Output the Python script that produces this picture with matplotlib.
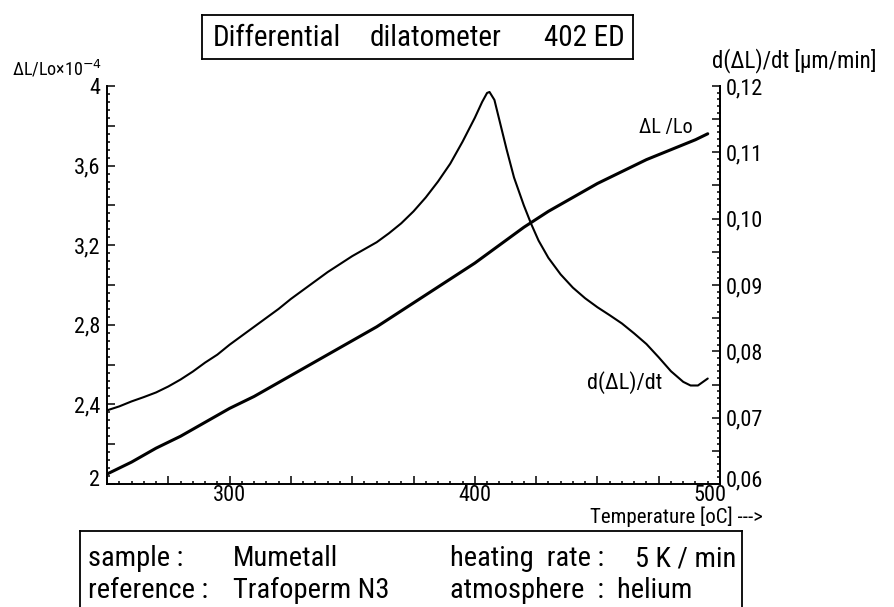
import matplotlib
matplotlib.use('Agg')
import matplotlib.pyplot as plt
from matplotlib import font_manager as fm
from matplotlib.ticker import MultipleLocator, FuncFormatter
from matplotlib.lines import Line2D
from matplotlib.transforms import ScaledTranslation

# ---- data ----
temp_dl = [250, 260, 270, 280, 290, 300, 310, 320, 330, 340, 350, 360, 370,
           380, 390, 400, 410, 420, 430, 440, 450, 460, 470, 480, 490, 495]
dl_lo = [2.05, 2.11, 2.18, 2.24, 2.31, 2.38, 2.44, 2.51, 2.58, 2.65, 2.72, 2.79,
         2.87, 2.95, 3.03, 3.11, 3.20, 3.29, 3.37, 3.44, 3.51, 3.57, 3.63, 3.68,
         3.73, 3.76]

temp_dr = [250, 255, 260, 265, 270, 275, 280, 285, 290, 295, 300, 305, 310, 315,
           320, 325, 330, 335, 340, 345, 350, 355, 360, 365, 370, 375, 380, 385,
           390, 395, 400, 403, 405, 406, 408, 410, 413, 416, 420, 423, 426, 430,
           435, 440, 445, 450, 455, 460, 465, 470, 475, 480, 485, 488, 491, 495]
deriv = [0.0711, 0.0717, 0.07245, 0.0731, 0.0738, 0.0747, 0.07575, 0.07695,
         0.0783, 0.0795, 0.0810, 0.08235, 0.0837, 0.08505, 0.0864, 0.0879,
         0.08925, 0.0906, 0.09195, 0.09315, 0.09435, 0.0954, 0.09645, 0.0978,
         0.0993, 0.1011, 0.1032, 0.1056, 0.1083, 0.1116, 0.1152, 0.1176,
         0.11895, 0.1191, 0.1179, 0.1149, 0.1104, 0.1062, 0.1020, 0.0992,
         0.0967, 0.0941, 0.0916, 0.0896, 0.0880, 0.08665, 0.08545, 0.0842,
         0.0827, 0.0811, 0.0791, 0.0770, 0.0754, 0.07485, 0.07485, 0.0759]

x_range = (250, 500)
left_range = (2, 4)
right_range = (0.06, 0.12)

W, H = 894, 607


def pick_narrow():
    prefs = ['Liberation Sans Narrow', 'Roboto Condensed', 'Open Sans Condensed',
             'Noto Sans Condensed', 'DejaVu Sans Condensed']
    good = []
    for f in fm.fontManager.ttflist:
        narrow = ('Narrow' in f.name or 'Condensed' in f.name or
                  'ondensed' in str(f.fname) or f.stretch in
                  ('condensed', 'semi-condensed', 'extra-condensed'))
        if not narrow or f.style != 'normal':
            continue
        w = f.weight if isinstance(f.weight, int) else 400
        if w not in (300, 400):
            continue
        good.append(f)
    for p in prefs:
        for f in good:
            if f.name == p:
                return fm.FontProperties(fname=f.fname), True
    if good:
        return fm.FontProperties(fname=good[0].fname), True
    return fm.FontProperties(family='DejaVu Sans'), False


FP, NARROW = pick_narrow()
K = 1.0 if NARROW else 0.85


def font(size):
    p = FP.copy()
    p.set_size(size * K)
    return p


def fx(x):
    return x / W


def fy(y):
    return 1 - y / H


fig = plt.figure(figsize=(W / 100, H / 100), dpi=100)
ax_l, ax_r, ax_t, ax_b = 107, 720, 86, 484
ax = fig.add_axes([fx(ax_l), fy(ax_b), (ax_r - ax_l) / W, (ax_b - ax_t) / H])
ax2 = ax.twinx()

ax.plot(temp_dl, dl_lo, color='black', lw=2.2, solid_capstyle='round')
ax2.plot(temp_dr, deriv, color='black', lw=1.5, solid_capstyle='round')

ax.set_xlim(*x_range)
ax.set_ylim(*left_range)
ax2.set_ylim(*right_range)

for a in (ax, ax2):
    a.spines['top'].set_visible(False)
    for s in a.spines.values():
        s.set_linewidth(1.4)
ax2.spines['left'].set_visible(False)
ax2.spines['bottom'].set_visible(False)


def fmt_left(v, pos):
    k = v / 0.4
    if abs(k - round(k)) > 1e-4:
        return ''
    s = f"{v:.1f}"
    if s.endswith('.0'):
        s = s[:-2]
    return s.replace('.', ',')


def fmt_right(v, pos):
    k = v / 0.01
    if abs(k - round(k)) > 1e-4:
        return ''
    return f"{v:.2f}".replace('.', ',')


def fmt_x(v, pos):
    if abs(v % 100) > 1e-6:
        return ''
    return f"{v:.0f}"


ax.xaxis.set_major_locator(MultipleLocator(25))
ax.xaxis.set_minor_locator(MultipleLocator(5))
ax.xaxis.set_major_formatter(FuncFormatter(fmt_x))
ax.yaxis.set_major_locator(MultipleLocator(0.2))
ax.yaxis.set_minor_locator(MultipleLocator(0.04))
ax.yaxis.set_major_formatter(FuncFormatter(fmt_left))
ax2.yaxis.set_major_locator(MultipleLocator(0.005))
ax2.yaxis.set_minor_locator(MultipleLocator(0.001))
ax2.yaxis.set_major_formatter(FuncFormatter(fmt_right))

ax.tick_params(which='both', direction='in', top=False, right=False, width=1.1)
ax.tick_params(axis='y', pad=5)
ax.tick_params(axis='x', pad=1)
ax.tick_params(which='major', length=6)
ax.tick_params(which='minor', length=2.5)
ax2.tick_params(which='both', direction='in', left=False, width=1.1, pad=4)
ax2.tick_params(which='major', length=6)
ax2.tick_params(which='minor', length=2.5)

fig.canvas.draw()
tick_font = font(16)
for lbl in ax.get_xticklabels() + ax.get_yticklabels() + ax2.get_yticklabels():
    lbl.set_fontproperties(tick_font)
# lowest y labels sit slightly above the bottom spine, as in the reference
raise_t = ScaledTranslation(0, 6 / 100, fig.dpi_scale_trans)
for t in ax2.yaxis.get_major_ticks():
    if abs(t.get_loc() - right_range[0]) < 1e-9:
        t.label2.set_transform(t.label2.get_transform() + raise_t)
for t in ax.yaxis.get_major_ticks():
    if abs(t.get_loc() - left_range[0]) < 1e-9:
        t.label1.set_transform(t.label1.get_transform() + raise_t)
# the last x label sits a little left of its tick, as in the reference
left_t = ScaledTranslation(-10 / 100, 0, fig.dpi_scale_trans)
for t in ax.xaxis.get_major_ticks():
    if abs(t.get_loc() - x_range[1]) < 1e-9:
        t.label1.set_transform(t.label1.get_transform() + left_t)

# curve labels
ax.text(478, 3.79, 'ΔL /Lo', fontproperties=font(14.5), ha='center', va='center')
ax.text(461, 2.51, 'd(ΔL)/dt', fontproperties=font(16), ha='center', va='center')

# axis labels
fig.text(fx(12), fy(69), 'ΔL/Lo×10$^{-4}$', fontproperties=font(13), ha='left',
         va='center')
fig.text(fx(712), fy(61), 'd(ΔL)/dt [μm/min]', fontproperties=font(16.5), ha='left',
         va='center')
fig.text(fx(763), fy(517), 'Temperature [oC] --->', fontproperties=font(15),
         ha='right', va='center')


def box_lines(x0, y0, x1, y1, bottom=True):
    pts = [((x0, x0), (y0, y1)), ((x0, x1), (y0, y0)), ((x1, x1), (y0, y1))]
    if bottom:
        pts.append(((x0, x1), (y1, y1)))
    for xs, ys in pts:
        fig.add_artist(Line2D([fx(v) for v in xs], [fy(v) for v in ys],
                              color='black', lw=1.3, transform=fig.transFigure))


# title box
box_lines(202, 15, 633, 59)
fig.text(fx(213), fy(38), 'Differential', fontproperties=font(21), va='center')
fig.text(fx(370), fy(38), 'dilatometer', fontproperties=font(21), va='center')
fig.text(fx(625), fy(38), '402 ED', fontproperties=font(21), va='center', ha='right')

# info box
box_lines(80, 531, 742, 612, bottom=False)
rows = [559, 590]
fs = 20.5
fig.text(fx(88), fy(rows[0]), 'sample :', fontproperties=font(fs), va='center')
fig.text(fx(233), fy(rows[0]), 'Mumetall', fontproperties=font(fs), va='center')
fig.text(fx(450), fy(rows[0]), 'heating  rate :', fontproperties=font(fs), va='center')
fig.text(fx(736), fy(rows[0]), '5 K / min', fontproperties=font(fs), va='center',
         ha='right')
fig.text(fx(88), fy(rows[1]), 'reference :', fontproperties=font(fs), va='center')
fig.text(fx(233), fy(rows[1]), 'Trafoperm N3', fontproperties=font(fs), va='center')
fig.text(fx(450), fy(rows[1]), 'atmosphere  :  helium', fontproperties=font(fs),
         va='center')

fig.savefig('out.png', dpi=100, facecolor='white')
